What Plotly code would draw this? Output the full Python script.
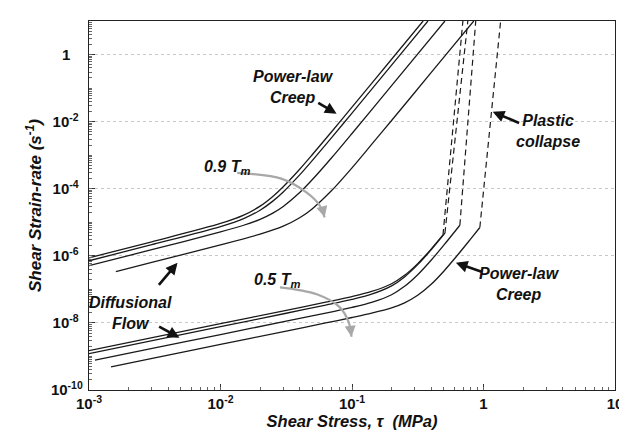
import plotly.graph_objects as go

# ---------------- data ----------------
# 0.9 Tm family (upper)
u1_stress = [1e-3, 3e-3, 1e-2, 1.5e-2, 2e-2, 2.5e-2, 3e-2, 4e-2, 5e-2, 7e-2, 0.1, 0.2, 0.3475]
u1_rate = [8.71e-7, 2.62e-6, 9.20e-6, 1.63e-5, 3.03e-5, 5.90e-5, 1.145e-4, 3.81e-4, 1.045e-3, 5.00e-3, 2.70e-2, 0.724, 10]
u2_stress = [1e-3, 3e-3, 1e-2, 1.5e-2, 2e-2, 2.5e-2, 3e-2, 4e-2, 5e-2, 7e-2, 0.1, 0.2, 0.378]
u2_rate = [7.13e-7, 2.14e-6, 7.45e-6, 1.29e-5, 2.29e-5, 4.27e-5, 8.02e-5, 2.59e-4, 7.03e-4, 3.35e-3, 1.80e-2, 0.483, 10]
u3_stress = [1e-3, 3e-3, 1e-2, 1.5e-2, 2e-2, 2.5e-2, 3e-2, 4e-2, 5e-2, 7e-2, 0.1, 0.2, 0.509]
u3_rate = [5.08e-7, 1.52e-6, 5.16e-6, 8.15e-6, 1.22e-5, 1.87e-5, 2.96e-5, 7.67e-5, 1.88e-4, 8.39e-4, 4.44e-3, 0.118, 10]
u4_stress = [1.60e-3, 3e-3, 1e-2, 2e-2, 3e-2, 4e-2, 5e-2, 7e-2, 0.1, 0.141, 0.2, 0.398, 0.843]
u4_rate = [3.39e-7, 6.35e-7, 2.12e-6, 4.43e-6, 7.66e-6, 1.36e-5, 2.55e-5, 8.81e-5, 4.20e-4, 2.09e-3, 1.08e-2, 0.283, 10]

# 0.5 Tm family (lower)
l1_stress = [1e-3, 3.16e-3, 1e-2, 3.16e-2, 6.31e-2, 0.1, 0.141, 0.2, 0.251, 0.316, 0.398, 0.492]
l1_rate = [1.50e-9, 3.77e-9, 9.46e-9, 2.38e-8, 4.15e-8, 6.11e-8, 8.65e-8, 1.47e-7, 2.63e-7, 5.86e-7, 1.56e-6, 4.20e-6]
l2_stress = [1e-3, 3.16e-3, 1e-2, 3.16e-2, 6.31e-2, 0.1, 0.141, 0.2, 0.251, 0.316, 0.398, 0.509]
l2_rate = [1.22e-9, 3.08e-9, 7.73e-9, 1.94e-8, 3.39e-8, 5.01e-8, 7.18e-8, 1.27e-7, 2.35e-7, 5.45e-7, 1.48e-6, 4.75e-6]
l3_stress = [1.11e-3, 3.16e-3, 1e-2, 3.16e-2, 6.31e-2, 0.1, 0.141, 0.2, 0.251, 0.316, 0.398, 0.501, 0.661]
l3_rate = [7.73e-10, 1.79e-9, 4.49e-9, 1.13e-8, 1.96e-8, 2.90e-8, 4.09e-8, 6.93e-8, 1.23e-7, 2.73e-7, 7.24e-7, 2.12e-6, 8.17e-6]
l4_stress = [1.47e-3, 3.16e-3, 1e-2, 3.16e-2, 6.31e-2, 0.1, 0.141, 0.2, 0.251, 0.316, 0.398, 0.501, 0.631, 0.794, 0.938]
l4_rate = [4.91e-10, 9.08e-10, 2.28e-9, 5.73e-9, 9.95e-9, 1.45e-8, 1.95e-8, 2.80e-8, 3.96e-8, 6.64e-8, 1.39e-7, 3.54e-7, 1.02e-6, 3.10e-6, 7.00e-6]

# plastic collapse (dashed)
d1_stress, d1_rate = [0.492, 0.697], [4.20e-6, 10]
d2_stress, d2_rate = [0.509, 0.760], [4.75e-6, 10]
d3_stress, d3_rate = [0.661, 0.873], [8.17e-6, 10]
d4_stress, d4_rate = [0.938, 1.35], [7.00e-6, 10]

# gray curved temperature arrows
arrow09_stress = [0.0134, 0.0293, 0.0453, 0.0568, 0.0619]
arrow09_rate = [2.96e-4, 1.97e-4, 7.62e-5, 3.16e-5, 1.40e-5]
arrow05_stress = [0.0283, 0.0540, 0.0805, 0.0942, 0.0991]
arrow05_rate = [1.15e-7, 7.13e-8, 2.96e-8, 1.07e-8, 3.87e-9]

x_tickvals = [1e-3, 1e-2, 1e-1, 1, 10]
x_ticktext = ["10<sup>-3</sup>", "10<sup>-2</sup>", "10<sup>-1</sup>", "1", "10"]
y_tickvals = [1, 1e-2, 1e-4, 1e-6, 1e-8, 1e-10]
y_ticktext = ["1&nbsp;&nbsp;&nbsp;", "10<sup>-2</sup>&nbsp;", "10<sup>-4</sup>&nbsp;",
              "10<sup>-6</sup>&nbsp;", "10<sup>-8</sup>&nbsp;", "10<sup>-10</sup>"]

FONT = "Liberation Sans"
fig = go.Figure()

solid = [(u1_stress, u1_rate), (u2_stress, u2_rate), (u3_stress, u3_rate), (u4_stress, u4_rate),
         (l1_stress, l1_rate), (l2_stress, l2_rate), (l3_stress, l3_rate), (l4_stress, l4_rate)]
for xs, ys in solid:
    fig.add_trace(go.Scatter(x=xs, y=ys, mode="lines",
                             line=dict(color="#1a1a1a", width=1.3, shape="spline", smoothing=0.8),
                             showlegend=False, hoverinfo="skip"))
for xs, ys in [(d1_stress, d1_rate), (d2_stress, d2_rate), (d3_stress, d3_rate), (d4_stress, d4_rate)]:
    fig.add_trace(go.Scatter(x=xs, y=ys, mode="lines",
                             line=dict(color="#1a1a1a", width=1.2, dash="6px,4px"),
                             showlegend=False, hoverinfo="skip"))
for xs, ys in [(arrow09_stress, arrow09_rate), (arrow05_stress, arrow05_rate)]:
    fig.add_trace(go.Scatter(x=xs, y=ys, mode="lines",
                             line=dict(color="#a8a8a8", width=2.2, shape="spline"),
                             showlegend=False, hoverinfo="skip"))

# invisible trace that carries the minor-tick overlay axes
fig.add_trace(go.Scatter(x=[u1_stress[0]], y=[u1_rate[0]], xaxis="x2", yaxis="y2",
                         mode="markers", marker=dict(opacity=0), showlegend=False,
                         hoverinfo="skip"))

ann = []
def label(x, y, text, size=16, dx=-5, dy=-7):
    ann.append(dict(x=x, y=y, xref="x", yref="y", text="<b><i>" + text + "</i></b>",
                    showarrow=False, font=dict(family=FONT, size=size, color="#111"),
                    align="center", xshift=dx, yshift=dy))

def arrow(tx, ty, hx, hy, color="#111", width=2.6, size=0.9):
    ann.append(dict(x=hx, y=hy, ax=tx, ay=ty, xref="x", yref="y", axref="x", ayref="y",
                    text="", showarrow=True, arrowhead=2, arrowsize=size,
                    arrowwidth=width, arrowcolor=color))

# annotation positions in log10 units (log axes)
label(-1.405, -0.765, "Power-law<br>Creep")
arrow(-1.268, -1.412, -1.117, -1.765)
label(-1.911, -3.265, "0.9 T<sub>m</sub>", dy=-3)
arrow(-1.225, -4.60, -1.208, -4.853, color="#a8a8a8", width=2.2, size=1.0)
label(-2.645, -7.50, "Diffusional<br>Flow")
arrow(-2.478, -6.912, -2.327, -6.206)
arrow(-2.478, -8.088, -2.312, -8.441)
label(-1.533, -6.647, "0.5 T<sub>m</sub>", dy=-3)
arrow(-1.012, -8.15, -1.004, -8.412, color="#a8a8a8", width=2.2, size=1.0)
label(0.312, -6.618, "Power-law<br>Creep")
arrow(0.002, -6.50, -0.210, -6.206)
label(0.531, -2.059, "Plastic<br>collapse")
arrow(0.282, -2.059, 0.070, -1.706)

axis_common = dict(type="log", showline=True, linecolor="#222", linewidth=1.4, mirror=True,
                   ticks="inside", ticklen=6, tickcolor="#333",
                   tickfont=dict(family=FONT, size=15, color="#111", weight="bold"),
                   zeroline=False)
minor_common = dict(type="log", showline=False, showgrid=False, zeroline=False,
                    ticks="inside", ticklen=3, tickcolor="#666", dtick="D1",
                    showticklabels=False)

fig.update_layout(
    width=627, height=432,
    margin=dict(l=81, r=17, t=13, b=45),
    paper_bgcolor="white", plot_bgcolor="white",
    annotations=ann,
    xaxis=dict(axis_common, range=[-3, 1], tickvals=x_tickvals, ticktext=x_ticktext,
               showgrid=False,
               title=dict(text="<b><i>Shear Stress, τ  (MPa)</i></b>",
                          font=dict(family=FONT, size=16.5, color="#111"), standoff=4)),
    yaxis=dict(axis_common, range=[-10, 1], tickvals=y_tickvals, ticktext=y_ticktext,
               showgrid=True, gridcolor="#c8c8c8", griddash="dot", gridwidth=1,
               ticklabelstandoff=2,
               title=dict(text="<b><i>Shear Strain-rate (s<sup>-1</sup>)</i></b>",
                          font=dict(family=FONT, size=17, color="#111"), standoff=4)),
    xaxis2=dict(minor_common, range=[-3, 1], overlaying="x", anchor="y2", side="bottom"),
    yaxis2=dict(minor_common, range=[-10, 1], overlaying="y", anchor="x2", side="left"),
)

fig.write_html("out.html")
